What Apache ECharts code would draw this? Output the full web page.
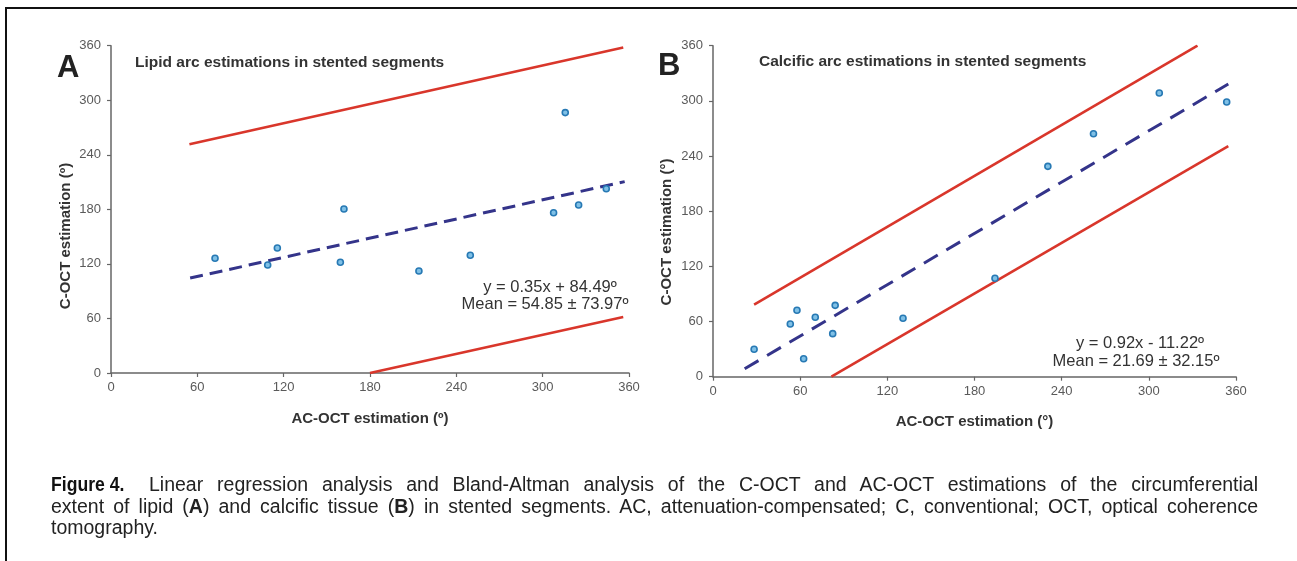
<!DOCTYPE html>
<html>
<head>
<meta charset="utf-8">
<script src="https://cdn.jsdelivr.net/npm/echarts@6/dist/echarts.min.js"></script>
<style>
  html, body { margin:0; padding:0; background:#fff; overflow:hidden; }
  #chart { position:absolute; left:0; top:0; width:1297px; height:561px; }
  #caption { position:absolute; left:51px; top:474px; width:1207px; font-family:"Liberation Sans", Arial, sans-serif; font-size:19.5px; line-height:21.5px; color:#222; }
  #caption .row { display:flex; white-space:nowrap; }
  #caption .fig { flex:0 0 98px; }
  #caption .fig span { display:inline-block; font-weight:bold; font-size:20px; color:#111; transform:scaleX(0.88); transform-origin:left center; }
  #caption .j { flex:1 1 auto; text-align:justify; text-align-last:justify; white-space:nowrap; }
</style>
</head>
<body>
<div id="chart"></div>
<div id="caption">
  <div class="row"><div class="fig"><span>Figure 4.</span></div><div class="j">Linear regression analysis and Bland-Altman analysis of the C-OCT and AC-OCT estimations of the circumferential</div></div>
  <div class="j">extent of lipid (<b>A</b>) and calcific tissue (<b>B</b>) in stented segments. AC, attenuation-compensated; C, conventional; OCT, optical coherence</div>
  <div>tomography.</div>
</div>
<script>
// ---- data ----
const axisTicks = [0, 60, 120, 180, 240, 300, 360];

const lipidX = [72.3, 108.9, 115.6, 159.4, 161.9, 214.0, 249.7, 307.6, 315.7, 325.0, 344.2];
const lipidY = [126.2, 118.8, 137.5, 121.8, 180.4, 112.2, 129.5, 176.3, 286.4, 184.8, 202.7];
const lipidFit   = [[55, 104.4], [357, 210.5]];
const lipidUpper = [[54.5, 251.6], [356, 358]];
const lipidLower = [[180, 0], [356, 61.5]];

const calcX = [28.3, 53.2, 57.8, 62.4, 70.4, 82.4, 84.1, 130.8, 194.1, 230.5, 261.9, 307.2, 353.6];
const calcY = [29.8, 57.3, 72.2, 19.6, 64.6, 46.8, 77.6, 63.5, 107.0, 228.8, 264.3, 308.6, 298.8];
const calcFit   = [[21.8, 8.7], [354.7, 318.3]];
const calcUpper = [[28.3, 78.4], [333.5, 360]];
const calcLower = [[81.5, 0], [354.7, 250.9]];

const titleA = 'Lipid arc estimations in stented segments';
const titleB = 'Calcific arc estimations in stented segments';
const eqA = ['y = 0.35x + 84.49º', 'Mean = 54.85 ± 73.97º'];
const eqB = ['y = 0.92x - 11.22º', 'Mean = 21.69 ± 32.15º'];
const xNameA = 'AC-OCT estimation (º)', yNameA = 'C-OCT estimation (º)';
const xNameB = 'AC-OCT estimation (°)', yNameB = 'C-OCT estimation (°)';

// ---- chart ----
const FONT = '"Liberation Sans", Arial, sans-serif';
const zip = (xs, ys) => xs.map((x, i) => [x, ys[i]]);
const RED = '#d9362b', NAVY = '#34348a';

function xAxisDef(gi, name) {
  return {
    type:'value', gridIndex:gi, min:axisTicks[0], max:axisTicks[axisTicks.length-1], interval:axisTicks[1]-axisTicks[0],
    name:name, nameLocation:'middle', nameGap:38,
    nameTextStyle:{ fontFamily:FONT, fontWeight:'bold', fontSize:15, color:'#333' },
    axisLine:{ show:true, lineStyle:{ color:'#666', width:1.5 } },
    axisTick:{ show:true, length:4, lineStyle:{ color:'#666', width:1.2 } },
    axisLabel:{ fontFamily:FONT, fontSize:13, color:'#5a5a5a', margin:8 },
    splitLine:{ show:false }
  };
}
function yAxisDef(gi) {
  return {
    type:'value', gridIndex:gi, min:axisTicks[0], max:axisTicks[axisTicks.length-1], interval:axisTicks[1]-axisTicks[0],
    axisLine:{ show:true, lineStyle:{ color:'#666', width:1.5 } },
    axisTick:{ show:true, length:4, lineStyle:{ color:'#666', width:1.2 } },
    axisLabel:{ fontFamily:FONT, fontSize:13, color:'#5a5a5a', margin:10 },
    splitLine:{ show:false }
  };
}
function lineSeries(gi, data, color, width, dash) {
  return {
    type:'line', xAxisIndex:gi, yAxisIndex:gi, data:data, symbol:'none', silent:true, z:2,
    lineStyle:{ color:color, width:width, type: dash || 'solid' }
  };
}
function scatterSeries(gi, data) {
  return {
    type:'scatter', xAxisIndex:gi, yAxisIndex:gi, data:data, symbol:'circle', symbolSize:6, z:3,
    itemStyle:{ color:'#7fc0e6', borderColor:'#2779b4', borderWidth:1.6, opacity:1 }
  };
}
function txt(x, y, t, size, bold, align, rot) {
  const el = { type:'text', x:x, y:y, style:{ text:t, fontFamily:FONT, fontSize:size, fontWeight: bold ? 'bold' : 'normal', fill:'#333', textAlign:align, textVerticalAlign:'middle' } };
  if (rot) el.rotation = rot;
  return el;
}

const chart = echarts.init(document.getElementById('chart'), null, { renderer:'canvas' });
chart.setOption({
  animation:false,
  backgroundColor:'#fff',
  grid:[
    { left:111, top:45.7, width:518, height:327.3 },
    { left:713, top:45.7, width:523, height:331 }
  ],
  xAxis:[ xAxisDef(0, xNameA), xAxisDef(1, xNameB) ],
  yAxis:[ yAxisDef(0), yAxisDef(1) ],
  series:[
    lineSeries(0, lipidUpper, RED, 2.6),
    lineSeries(0, lipidLower, RED, 2.6),
    lineSeries(0, lipidFit, NAVY, 3, [13, 7]),
    scatterSeries(0, zip(lipidX, lipidY)),
    lineSeries(1, calcUpper, RED, 2.6),
    lineSeries(1, calcLower, RED, 2.6),
    lineSeries(1, calcFit, NAVY, 3, [16, 10]),
    scatterSeries(1, zip(calcX, calcY))
  ],
  graphic:[
    { type:'rect', shape:{ x:6, y:8, width:1400, height:700 }, style:{ fill:'none', stroke:'#111', lineWidth:2 }, silent:true },
    { type:'text', left:57, top:53, style:{ text:'A', fontFamily:FONT, fontSize:31, fontWeight:'bold', fill:'#222' } },
    { type:'text', left:658, top:51, style:{ text:'B', fontFamily:FONT, fontSize:31, fontWeight:'bold', fill:'#222' } },
    txt(135, 63, titleA, 15.5, true, 'left'),
    txt(759, 62, titleB, 15.5, true, 'left'),
    txt(66, 236, yNameA, 15, true, 'center', Math.PI/2),
    txt(667, 232, yNameB, 15, true, 'center', Math.PI/2),
    txt(550, 287, eqA[0], 16.5, false, 'center'),
    txt(545, 304, eqA[1], 16.5, false, 'center'),
    txt(1140, 343.5, eqB[0], 16.5, false, 'center'),
    txt(1136, 361.5, eqB[1], 16.5, false, 'center')
  ]
});
</script>
</body>
</html>
